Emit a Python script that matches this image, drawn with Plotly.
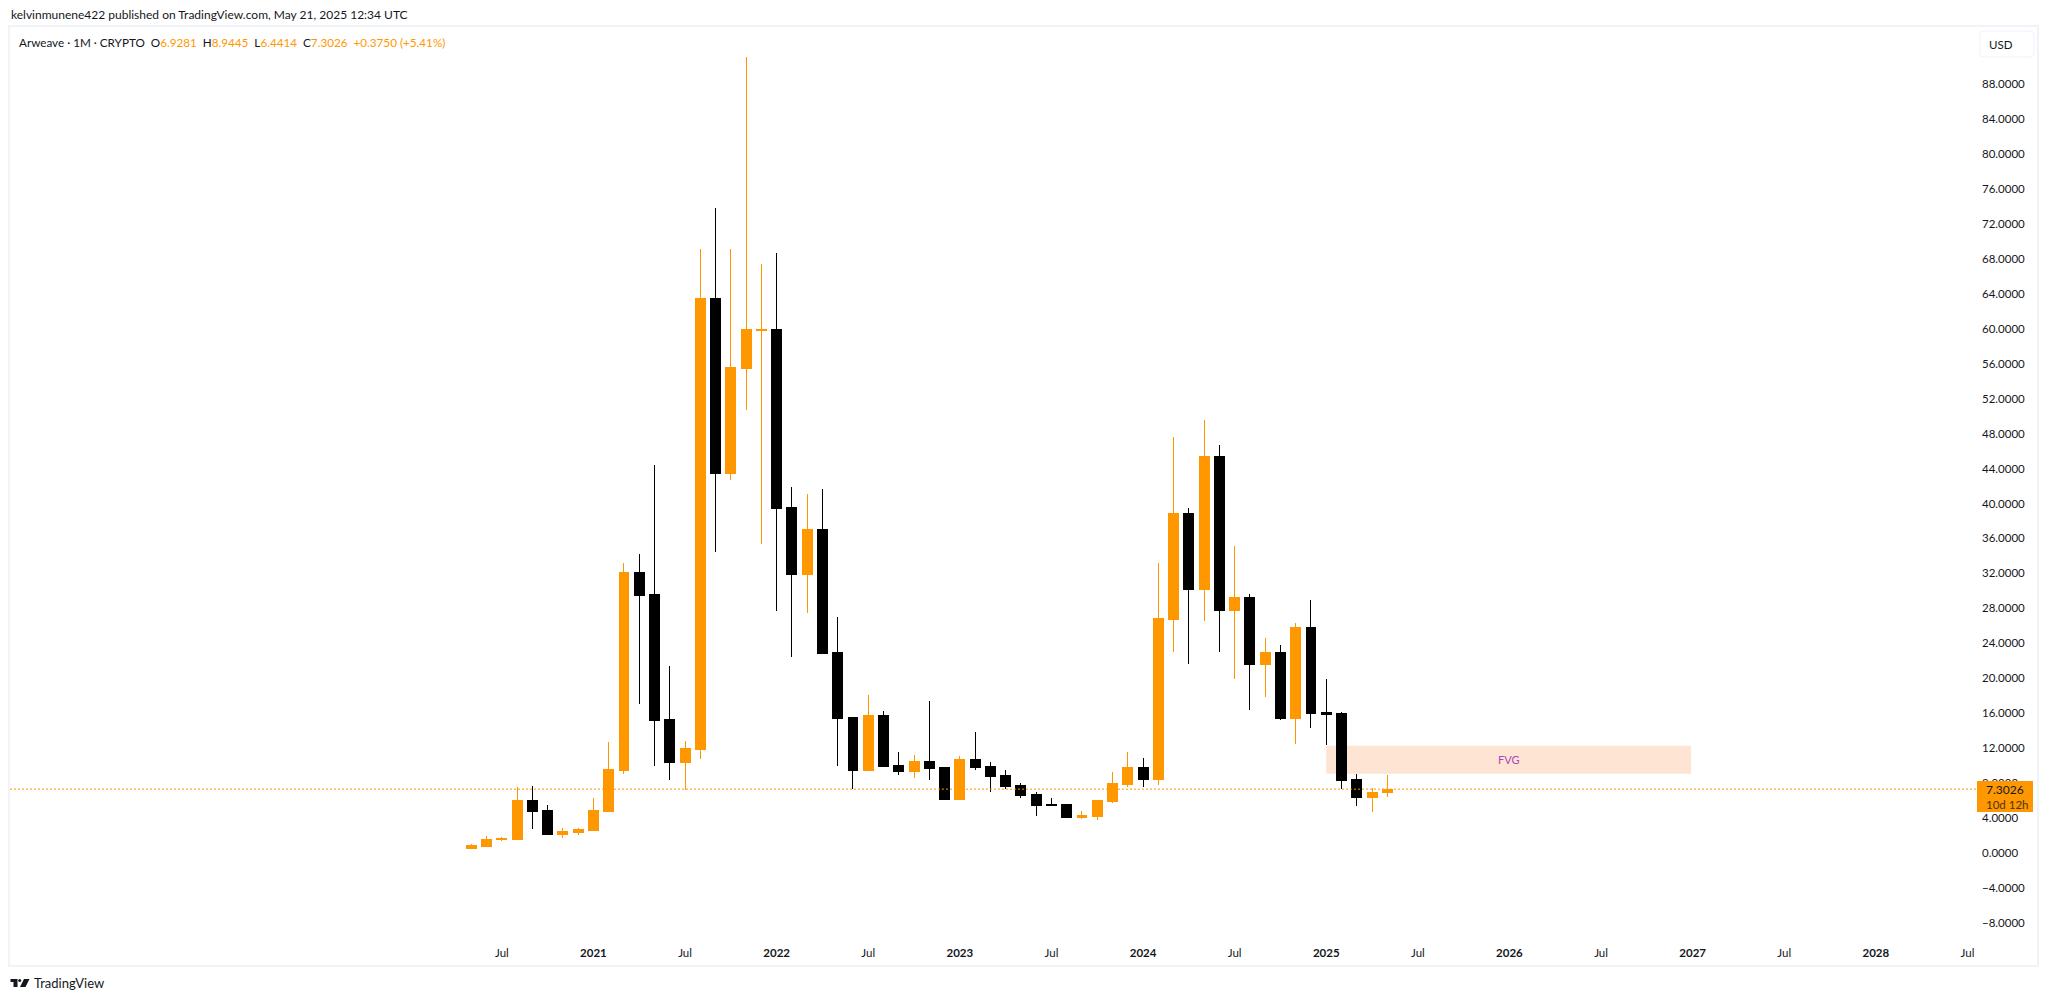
import plotly.graph_objects as go

W, H = 2048, 1002
ORANGE = "#ff9800"
BLACK = "#000000"
TEXT = "#131722"
FRAME = "#f0f3fa"
FONT = "Lato"

# monthly candles, May 2020 to May 2025
OPENS = [
    0.48, 0.70, 1.51, 1.51, 5.97, 4.82, 2.08, 2.31,
    2.54, 4.71, 9.40, 32.06, 29.54, 15.24, 10.32, 11.80, 63.42, 43.39, 55.41, 59.75,
    59.87, 39.50, 31.83, 36.98, 22.91, 15.47, 9.40, 15.70, 9.97, 9.29, 10.43, 9.75,
    6.08, 10.66, 9.86, 8.83, 7.69, 6.66, 5.51, 5.51, 4.02, 4.14, 5.85, 7.80,
    9.75, 8.37, 26.68, 38.81, 30.12, 45.34, 27.71, 29.20, 21.53, 22.91, 15.35, 25.77,
    16.04, 15.93, 8.37, 6.31, 6.9281,
]
HIGHS = [
    1.05, 1.96, 1.85, 7.57, 7.68, 5.51, 2.88, 2.88,
    6.31, 12.72, 33.21, 34.24, 44.42, 21.42, 12.84, 69.14, 73.83, 69.14, 91.11, 67.42,
    68.68, 41.90, 41.10, 41.67, 27.03, 15.47, 18.10, 16.27, 11.58, 11.23, 17.41, 9.75,
    11.12, 13.86, 10.43, 9.52, 8.03, 7.00, 6.31, 5.62, 4.82, 5.97, 9.29, 11.58,
    10.89, 33.21, 47.63, 39.50, 49.57, 46.71, 35.15, 29.66, 24.62, 23.82, 26.34, 28.97,
    19.93, 16.15, 9.06, 7.46, 8.9445,
]
LOWS = [
    0.48, 0.70, 1.39, 1.51, 2.76, 2.08, 1.73, 2.08,
    2.54, 4.71, 9.06, 17.07, 9.97, 8.37, 7.23, 10.77, 34.46, 42.70, 50.72, 35.38,
    27.71, 22.45, 27.48, 22.79, 9.97, 7.34, 9.40, 9.86, 8.94, 8.60, 8.37, 6.08,
    6.08, 9.52, 7.00, 7.34, 6.31, 4.25, 5.40, 4.02, 3.91, 3.79, 5.74, 7.57,
    7.57, 7.80, 23.02, 21.65, 26.57, 23.02, 19.93, 16.38, 17.87, 15.24, 12.49, 14.32,
    12.38, 7.34, 5.40, 4.71, 6.4414,
]
CLOSES = [
    0.82, 1.51, 1.62, 5.97, 4.71, 2.08, 2.42, 2.65,
    4.82, 9.52, 32.06, 29.43, 15.12, 10.32, 11.92, 63.42, 43.39, 55.52, 59.87, 59.87,
    39.39, 31.83, 36.98, 22.79, 15.35, 9.40, 15.70, 9.86, 9.29, 10.43, 9.63, 6.08,
    10.66, 9.75, 8.71, 7.57, 6.54, 5.40, 5.40, 4.02, 4.25, 5.97, 7.91, 9.75,
    8.37, 26.80, 38.81, 30.12, 45.34, 27.71, 29.20, 21.53, 22.91, 15.35, 25.77, 15.93,
    15.82, 8.26, 6.31, 6.93, 7.3026,
]

# axis ticks, x in months after May 2020
X_TICKS = [2, 8, 14, 20, 26, 32, 38, 44, 50, 56, 62, 68, 74, 80, 86, 92, 98]
X_LABELS = ["Jul", "<b>2021</b>", "Jul", "<b>2022</b>", "Jul", "<b>2023</b>", "Jul", "<b>2024</b>", "Jul",
            "<b>2025</b>", "Jul", "<b>2026</b>", "Jul", "<b>2027</b>", "Jul", "<b>2028</b>", "Jul"]
Y_TICKS = [-8, -4, 0, 4, 8, 12, 16, 20, 24, 28, 32, 36, 40, 44, 48, 52, 56, 60, 64, 68, 72, 76, 80, 84, 88]

LAST_PRICE = 7.3026
FVG_START, FVG_END = 56, 79.9
FVG_LOW, FVG_HIGH = 9.06, 12.26


def px(x):
    return x / W


def py(y):
    return 1 - y / H


def note(x, y, text, size, color=TEXT):
    # text placed in figure pixels
    fig.add_annotation(xref="paper", yref="paper", x=px(x), y=py(y), text=text, showarrow=False,
                       xanchor="left", yanchor="middle", font=dict(family=FONT, size=size, color=color))


months = list(range(len(OPENS)))

fig = go.Figure()
fig.add_trace(
    go.Candlestick(
        x=months,
        open=OPENS,
        high=HIGHS,
        low=LOWS,
        close=CLOSES,
        whiskerwidth=0,
        increasing=dict(line=dict(color=ORANGE, width=1), fillcolor=ORANGE),
        decreasing=dict(line=dict(color=BLACK, width=1), fillcolor=BLACK),
        showlegend=False,
    )
)

# FVG zone, under the candles
fig.add_shape(type="rect", x0=FVG_START, x1=FVG_END, y0=FVG_LOW, y1=FVG_HIGH,
              fillcolor="#fde4d3", line_width=0, layer="below")
fig.add_annotation(x=(FVG_START + FVG_END) / 2, y=(FVG_LOW + FVG_HIGH) / 2, text="FVG", showarrow=False,
                   font=dict(family=FONT, size=11, color="#ab47bc"))

# last price line and its label
fig.add_shape(type="line", xref="paper", x0=px(10), x1=px(1981), y0=LAST_PRICE, y1=LAST_PRICE,
              line=dict(color=ORANGE, width=1, dash="2px,2px"))
fig.add_shape(type="rect", xref="paper", yref="paper", x0=px(1977), x1=px(2033), y0=py(781), y1=py(812),
              fillcolor=ORANGE, line_width=0)
note(1984, 789, f"{LAST_PRICE:.4f}", 12)
note(1984, 804, "10d 12h", 11.5, "#4a3410")

# chart frame
fig.add_shape(type="rect", xref="paper", yref="paper", x0=px(9), x1=px(2038), y0=py(966), y1=py(26),
              line=dict(color=FRAME, width=2))

# currency button
r = 4
x0, x1, y0, y1 = px(1980), px(2034), py(57), py(31)
rx, ry = px(r), r / H
fig.add_shape(
    type="path", xref="paper", yref="paper",
    path=(f"M {x0 + rx} {y1} L {x1 - rx} {y1} Q {x1} {y1} {x1} {y1 - ry} L {x1} {y0 + ry} Q {x1} {y0} {x1 - rx} {y0} "
          f"L {x0 + rx} {y0} Q {x0} {y0} {x0} {y0 + ry} L {x0} {y1 - ry} Q {x0} {y1} {x0 + rx} {y1} Z"),
    line=dict(color=FRAME, width=1), fillcolor="white",
)
note(1987, 44, "USD", 11.5)

# header and legend line
note(9, 15, "kelvinmunene422 published on TradingView.com, May 21, 2025 12:34 UTC", 12)


def val(s):
    return f'<span style="color:{ORANGE}">{s}</span>'


legend_text = ("Arweave · 1M · CRYPTO\u00a0\u00a0O" + val("6.9281") + "\u00a0\u00a0H" + val("8.9445")
               + "\u00a0\u00a0L" + val("6.4414") + "\u00a0\u00a0C" + val("7.3026")
               + "\u00a0\u00a0" + val("+0.3750 (+5.41%)"))
note(17, 42, legend_text, 11.7)

# TradingView mark
for path in [
    f"M {px(10.5)} {py(979)} L {px(17.5)} {py(979)} L {px(17.5)} {py(987)} L {px(13.5)} {py(987)} "
    f"L {px(13.5)} {py(982)} L {px(10.5)} {py(982)} Z",
    f"M {px(24)} {py(979)} L {px(29.5)} {py(979)} L {px(25.5)} {py(987)} L {px(20)} {py(987)} Z",
    f"M {px(18.2)} {py(980.5)} Q {px(18.2)} {py(979)} {px(19.7)} {py(979)} Q {px(21.2)} {py(979)} {px(21.2)} {py(980.5)} "
    f"Q {px(21.2)} {py(982)} {px(19.7)} {py(982)} Q {px(18.2)} {py(982)} {px(18.2)} {py(980.5)} Z",
]:
    fig.add_shape(type="path", xref="paper", yref="paper", path=path, fillcolor="#131722", line_width=0)
note(32, 983, "TradingView", 13)

fig.update_layout(
    width=W,
    height=H,
    margin=dict(l=0, r=0, t=0, b=0),
    paper_bgcolor="white",
    plot_bgcolor="white",
    boxgap=0.35,
    boxgroupgap=0,
    showlegend=False,
    font=dict(family=FONT, color=TEXT),
    xaxis=dict(
        domain=[px(10), px(1981)],
        range=[-30.216, 98.887],
        rangeslider=dict(visible=False),
        showgrid=False,
        zeroline=False,
        showline=False,
        tickmode="array",
        tickvals=X_TICKS,
        ticktext=X_LABELS,
        ticks="outside",
        ticklen=4,
        tickcolor="rgba(0,0,0,0)",
        tickfont=dict(family=FONT, size=11.5, color=TEXT),
    ),
    yaxis=dict(
        domain=[py(938), py(27)],
        range=[-9.734, 94.536],
        side="right",
        showgrid=False,
        zeroline=False,
        showline=False,
        tickmode="array",
        tickvals=Y_TICKS,
        ticktext=[f"{v:.4f}".replace("-", "\u2212") for v in Y_TICKS],
        ticks="",
        tickfont=dict(family=FONT, size=11.5, color=TEXT),
    ),
)

fig.write_html(
    "out.html",
    config={"displayModeBar": False},
    post_script=(
        "document.body.style.margin='0';document.body.style.overflow='hidden';"
        "document.head.insertAdjacentHTML('beforeend','<style>.boxlayer path{shape-rendering:crispEdges}</style>');"
    ),
)
